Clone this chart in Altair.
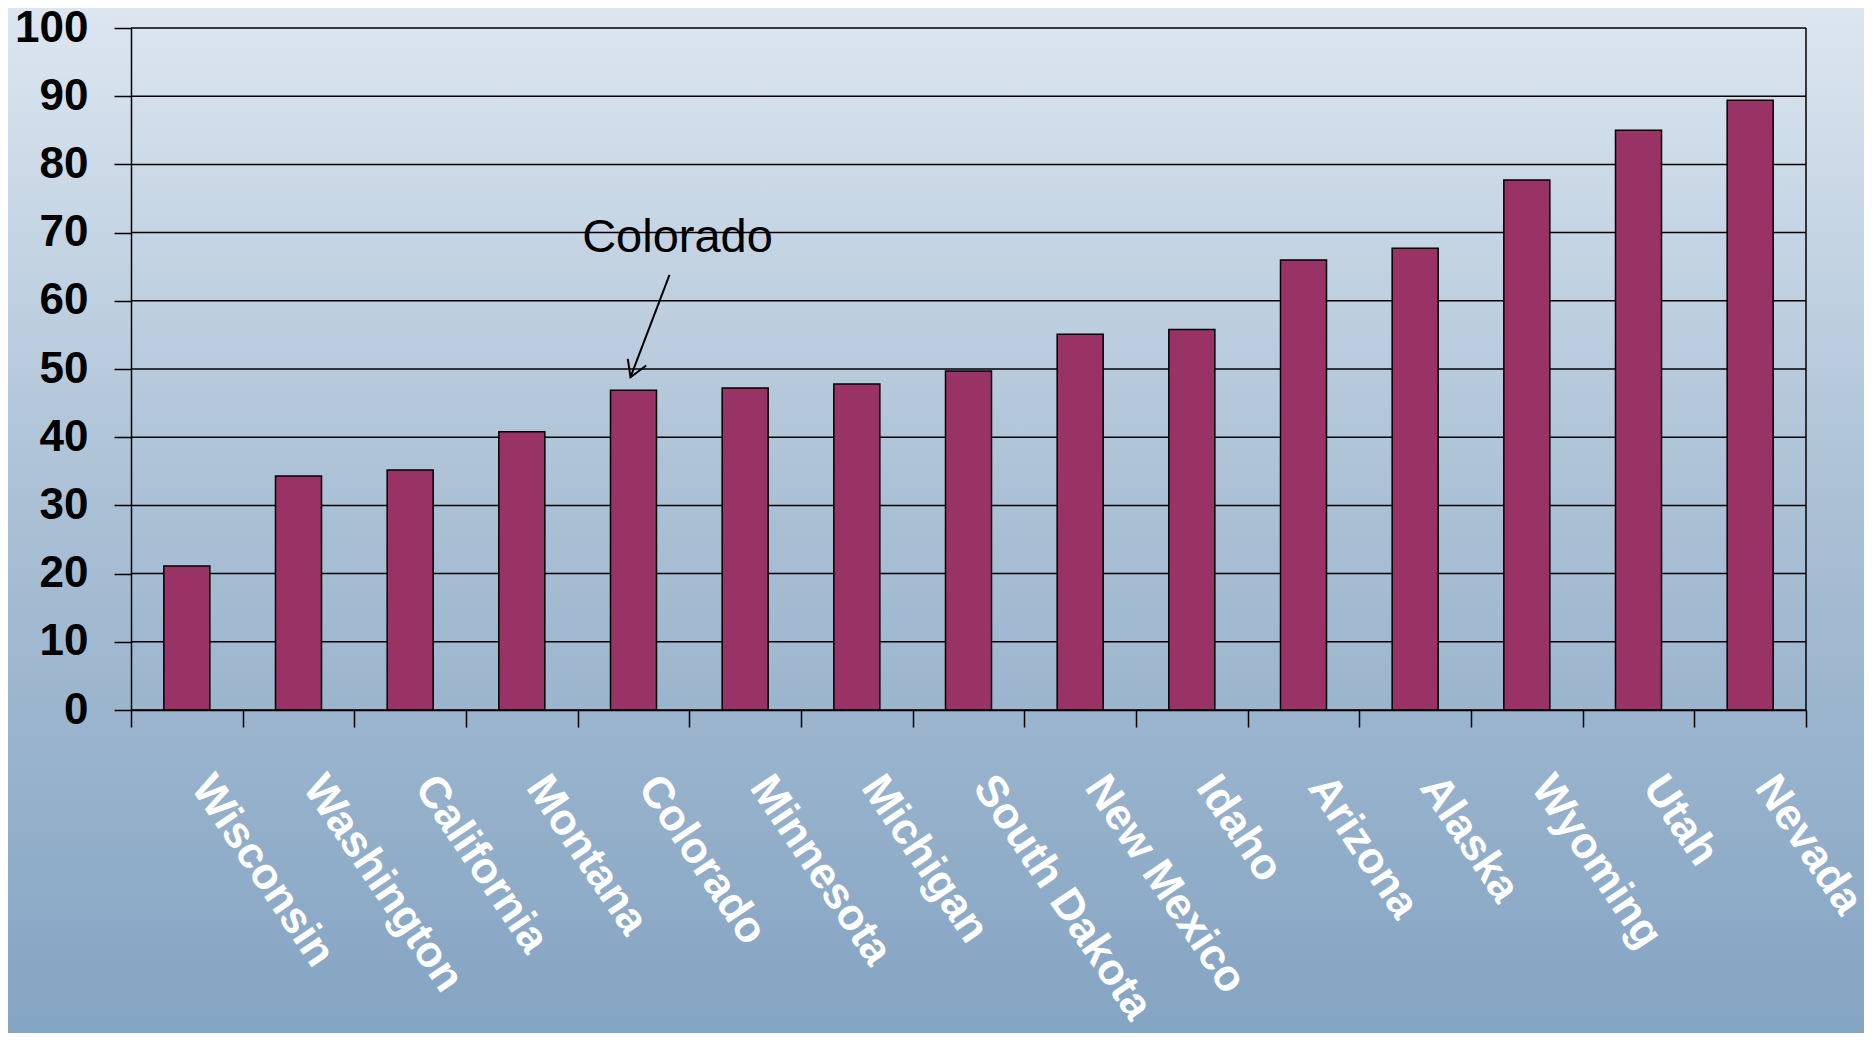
import altair as alt
import pandas as pd

# ---- data ----
states = ["Wisconsin", "Washington", "California", "Montana", "Colorado",
          "Minnesota", "Michigan", "South Dakota", "New Mexico", "Idaho",
          "Arizona", "Alaska", "Wyoming", "Utah", "Nevada"]
values = [21.1, 34.3, 35.2, 40.8, 46.9, 47.2, 47.8, 49.7, 55.1, 55.8,
          66.0, 67.7, 77.7, 85.0, 89.4]
y_ticks = [0, 10, 20, 30, 40, 50, 60, 70, 80, 90, 100]

annot_state = ["Colorado"]
annot_text = ["Colorado"]
annot_text_y = [69.2]
arrow_tip_y = [48.8]
arrow_tail_y = [63.8]

# ---- layout ----
W, H = 1675, 682
PAD = {"left": 123, "top": 20, "right": 58, "bottom": 323}
FONT = "Liberation Sans"

bars_df = pd.DataFrame({"state": states, "value": values})
grid_df = pd.DataFrame({"tick": y_ticks})
annot_df = pd.DataFrame({"state": annot_state, "label": annot_text,
                         "ty": annot_text_y, "tip": arrow_tip_y, "tail": arrow_tail_y})

x_enc = alt.X("state:N", sort=states, title=None,
              scale=alt.Scale(paddingInner=0, paddingOuter=0),
              axis=alt.Axis(labelAngle=56, labelAlign="left", labelBaseline="alphabetic",
                            labelFont=FONT, labelFontSize=44, labelFontWeight="bold",
                            labelColor="white", labelPadding=60, labelOffset=3,
                            labelLimit=600, labelOverlap=False,
                            tickBand="extent", tickSize=17, tickColor="black", tickWidth=1.5,
                            domainColor="black", domainWidth=1.5, grid=False, zindex=1))

y_enc = alt.Y("value:Q", title=None,
              scale=alt.Scale(domain=[0, 100], nice=False),
              axis=alt.Axis(values=y_ticks, labelFont=FONT, labelFontSize=44,
                            labelFontWeight="bold", labelColor="black", labelPadding=26,
                            labelFlush=False,
                            tickSize=17, tickColor="black", tickWidth=1.5,
                            domainColor="black", domainWidth=1.5, grid=False, zindex=1))

bg = alt.Chart(alt.Data(values=[{"a": 1}])).mark_rect(
    fill=alt.Gradient(gradient="linear", x1=0, y1=0, x2=0, y2=1,
                      stops=[alt.GradientStop(offset=0, color="#dce6f0"),
                             alt.GradientStop(offset=0.5, color="#a9bfd4"),
                             alt.GradientStop(offset=1, color="#84a4c3")])
).encode(x=alt.value(-PAD["left"]), x2=alt.value(W + PAD["right"]),
         y=alt.value(-PAD["top"]), y2=alt.value(H + PAD["bottom"]))

grid = alt.Chart(grid_df).mark_rule(color="black", strokeWidth=1.5).encode(
    y=alt.Y("tick:Q"), x=alt.value(0), x2=alt.value(W))

border = alt.Chart(alt.Data(values=[{"a": 1}])).mark_rule(color="black", strokeWidth=1.5).encode(
    x=alt.value(W), y=alt.datum(0), y2=alt.datum(100))

bars = alt.Chart(bars_df).mark_bar(
    color="#993366", stroke="black", strokeWidth=1.5,
    width=alt.RelativeBandSize(0.412)
).encode(x=x_enc, y=y_enc)

label = alt.Chart(annot_df).mark_text(
    font=FONT, fontSize=47, color="black", align="center", baseline="middle", dx=44
).encode(x=alt.X("state:N", sort=states), y=alt.Y("ty:Q"), text="label:N")

arrow = alt.Chart(annot_df).mark_rule(
    color="black", strokeWidth=2, xOffset=-3, x2Offset=36
).encode(x=alt.X("state:N", sort=states), x2="state:N", y=alt.Y("tip:Q"), y2="tail:Q")

head = alt.Chart(annot_df).mark_point(
    shape="M -0.146 -0.99 L 0 0 L 0.85 -0.632", filled=False, stroke="black",
    strokeWidth=2, size=1369, xOffset=-3, opacity=1
).encode(x=alt.X("state:N", sort=states), y=alt.Y("tip:Q"))

chart = alt.layer(bg, grid, border, bars, label, arrow, head).properties(
    width=W, height=H,
    autosize=alt.AutoSizeParams(type="none"),
    padding=PAD,
).configure_view(stroke=None).configure(background="#a9bfd4")

chart.save("out.html", embed_options={"renderer": "svg", "actions": False})
